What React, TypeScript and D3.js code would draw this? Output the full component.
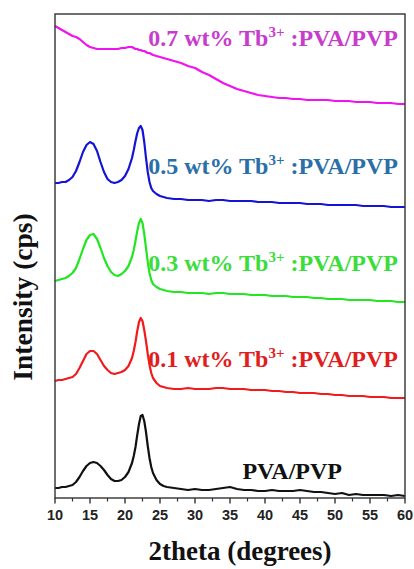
import React from "react";
import * as d3 from "d3";

// 2theta sampling points (degrees)
const twoTheta = [
  10, 10.5, 11, 11.5, 12, 12.5, 13, 13.5, 14, 14.5, 15, 15.5, 16, 16.5, 17, 17.5, 18, 18.5, 19, 19.5, 20, 20.5, 21,
  21.25, 21.5, 21.75, 22, 22.25, 22.5, 22.75, 23, 23.25, 23.5, 23.75, 24,
  24.5, 25, 25.5, 26,
  27, 28, 29, 30, 31, 32, 33, 34, 35, 36, 37, 38, 39, 40, 41, 42, 43, 44, 45, 46, 47, 48, 49, 50,
  51, 52, 53, 54, 55, 56, 57, 58, 59, 60,
];

// intensities (a.u.)
const pvaPvp = [
  10, 10, 11, 11, 12, 13, 16, 21, 27, 32, 35, 36, 35, 32, 28, 23, 19, 17, 17, 18, 21, 26, 35,
  42, 51, 63, 74, 82, 83, 77, 66, 52, 40, 31, 25,
  18, 14, 12, 11,
  10, 9, 8, 9, 8, 8, 9, 10, 11, 9, 8, 8, 7, 7, 8, 7, 7, 7, 8, 7, 6, 6, 5, 4,
  5, 3, 4, 3, 3, 3, 3, 2, 3, 2,
];
const tb01 = [
  17, 18, 18, 19, 20, 21, 24, 30, 37, 44, 47, 47, 44, 38, 32, 28, 25, 24, 25, 26, 28, 32, 40,
  47, 56, 67, 76, 80, 77, 68, 57, 44, 33, 25, 20,
  15, 12, 11, 10,
  9, 9, 10, 9, 9, 9, 10, 10, 9, 9, 9, 8, 8, 8, 7, 7, 6, 6, 5, 5, 5, 4, 4, 3,
  3, 2, 2, 2, 1, 1, 1, 0, 0, 0,
];
const tb03 = [
  22, 23, 24, 25, 27, 30, 35, 44, 54, 63, 68, 69, 64, 55, 45, 37, 31, 28, 27, 29, 32, 37, 46,
  53, 62, 72, 80, 84, 80, 69, 55, 41, 30, 23, 19,
  16, 14, 13, 12,
  11, 11, 10, 10, 10, 9, 10, 10, 9, 9, 9, 8, 8, 8, 7, 7, 7, 6, 6, 6, 5, 5, 4, 4,
  4, 3, 3, 3, 3, 2, 2, 2, 1, 1,
];
const tb05 = [
  25, 25, 26, 26, 28, 31, 37, 46, 56, 63, 66, 64, 57, 46, 36, 29, 26, 25, 26, 28, 32, 39, 50,
  58, 67, 75, 80, 82, 78, 66, 50, 36, 26, 20, 17,
  14, 12, 11, 10,
  9, 9, 8, 8, 8, 7, 8, 8, 7, 7, 7, 7, 6, 6, 6, 5, 5, 5, 5, 4, 4, 4, 3, 3,
  3, 3, 3, 2, 2, 2, 2, 1, 1, 1,
];
const tb07 = [
  82, 80, 78, 76, 74, 72, 71, 69, 66, 63, 61, 60, 59, 59, 59, 59, 59, 59, 59, 60, 60, 61, 61,
  60, 59, 59, 58, 58, 57, 57, 56, 55, 55, 54, 53,
  52, 51, 50, 49,
  47, 45, 42, 40, 36, 33, 29, 25, 22, 19, 17, 15, 13, 12, 11, 10, 10, 9, 9, 8, 8, 8, 8, 7,
  7, 7, 6, 6, 6, 5, 5, 5, 4, 4,
];

const series = [pvaPvp, tb01, tb03, tb05, tb07];
const offsets = [0, 100, 195, 290, 390];
const labelMain = ["PVA/PVP", "0.1 wt% Tb", "0.3 wt% Tb", "0.5 wt% Tb", "0.7 wt% Tb"];
const labelSup = ["", "3+", "3+", "3+", "3+"];
const labelTail = ["", " :PVA/PVP", " :PVA/PVP", " :PVA/PVP", " :PVA/PVP"];
const xTicks = [10, 15, 20, 25, 30, 35, 40, 45, 50, 55, 60];

const lineColors = ["#111111", "#f21a1a", "#22e622", "#1414d6", "#f012f0"];
const textColors = ["#111111", "#e01e1e", "#3cdc3c", "#2a6fa8", "#c83ccc"];
// label anchor (right end) in data coords
const labelAt = [
  [51, 19],
  [59, 131],
  [59, 227],
  [59, 324],
  [59, 452],
];

const W = 414;
const H = 569;
const serif = "'Liberation Serif', 'Times New Roman', serif";

export default function App() {
  const x = d3.scaleLinear().domain([10, 60]).range([55, 405]);
  const y = d3.scaleLinear().domain([0, 484]).range([498, 14]);
  const minor = d3.range(12.5, 60, 5);

  return (
    <svg width={W} height={H} style={{ position: "absolute", left: 0, top: 0, background: "#fff" }}>
      {series.map((vals, k) => {
        const line = d3
          .line<number>()
          .x((_, i) => x(twoTheta[i]))
          .y((d) => y(d + offsets[k]));
        return (
          <path key={k} d={line(vals) || ""} fill="none" stroke={lineColors[k]} strokeWidth={2.2} strokeLinejoin="round" />
        );
      })}

      <rect x={55} y={14} width={350} height={484} fill="none" stroke="#333" strokeWidth={1.4} />

      {xTicks.map((t) => (
        <g key={t}>
          <line x1={x(t)} x2={x(t)} y1={498} y2={503.5} stroke="#333" strokeWidth={1.4} />
          <text
            x={x(t)}
            y={519.5}
            textAnchor="middle"
            fontFamily="'Liberation Sans', Arial, sans-serif"
            fontWeight="bold"
            fontSize={14.5}
            fill="#222"
          >
            {t}
          </text>
        </g>
      ))}
      {minor.map((t) => (
        <line key={t} x1={x(t)} x2={x(t)} y1={498} y2={501.5} stroke="#333" strokeWidth={1.2} />
      ))}

      {labelMain.map((m, k) => (
        <text
          key={k}
          x={x(labelAt[k][0])}
          y={y(labelAt[k][1])}
          textAnchor="end"
          fontFamily={serif}
          fontWeight="bold"
          fontSize={24}
          fill={textColors[k]}
        >
          {m}
          {labelSup[k] && (
            <tspan fontSize={15} dy={-9}>
              {labelSup[k]}
            </tspan>
          )}
          {labelTail[k] && <tspan dy={9}>{labelTail[k]}</tspan>}
        </text>
      ))}

      <text x={240} y={560} textAnchor="middle" fontFamily={serif} fontWeight="bold" fontSize={27} fill="#111">
        2theta (degrees)
      </text>
      <text
        transform="translate(32,297) rotate(-90)"
        textAnchor="middle"
        fontFamily={serif}
        fontWeight="bold"
        fontSize={27.5}
        fill="#111"
      >
        Intensity (cps)
      </text>
    </svg>
  );
}
